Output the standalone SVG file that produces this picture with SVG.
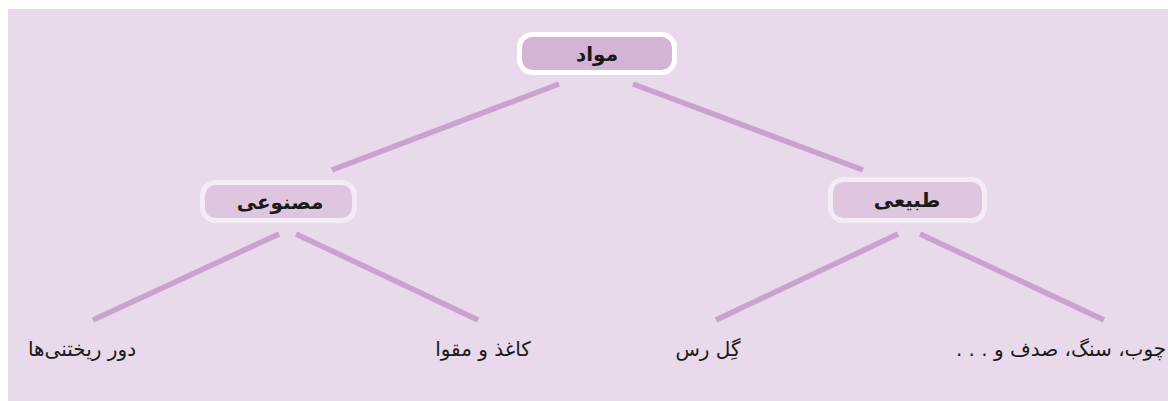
<svg xmlns="http://www.w3.org/2000/svg" width="1168" height="401" viewBox="0 0 1168 401">
<style>
.bg{fill:#e8daea}
.conn line{stroke:#c9a3cd;stroke-width:5.5}
.root rect{fill:#d4b4d5;stroke:#ffffff;stroke-width:5}
.child rect{fill:#dfc6df;stroke:#f4ecf4;stroke-width:5}
.lbl{font-family:"DejaVu Sans",sans-serif;font-weight:bold;font-size:20px;fill:#1a1a1a;text-anchor:middle;direction:rtl}
.leaf{font-family:"DejaVu Sans",sans-serif;font-size:20px;fill:#1a1a1a;text-anchor:middle;direction:rtl}
</style>
<rect class="bg" x="8" y="9" width="1160" height="392"/>
<g id="connectors" class="conn">
<line x1="559" y1="84" x2="332" y2="170"/>
<line x1="633" y1="84" x2="863" y2="170"/>
<line x1="279" y1="234" x2="93" y2="320"/>
<line x1="296" y1="234" x2="478" y2="320"/>
<line x1="898" y1="234" x2="716" y2="320"/>
<line x1="920" y1="234" x2="1104" y2="320"/>
</g>
<g id="node-mavad" class="root">
<rect x="519.5" y="34.5" width="155" height="38" rx="13"/>
<text class="lbl" x="597" y="61">مواد</text>
</g>
<g id="node-masnooi" class="child">
<rect x="202.5" y="182.5" width="152" height="38" rx="13"/>
<text class="lbl" x="280" y="209">مصنوعی</text>
</g>
<g id="node-tabiei" class="child">
<rect x="830.5" y="179.5" width="154" height="41" rx="13"/>
<text class="lbl" x="907" y="207">طبیعی</text>
</g>
<g id="leaf-1">
<text class="leaf" x="82" y="356">دور ریختنی‌ها</text>
</g>
<g id="leaf-2">
<text class="leaf" x="483" y="356">کاغذ و مقوا</text>
</g>
<g id="leaf-3">
<text class="leaf" x="708" y="356">گِل رس</text>
</g>
<g id="leaf-4">
<text class="leaf" x="1061" y="356">چوب، سنگ، صدف و . . .</text>
</g>
</svg>
